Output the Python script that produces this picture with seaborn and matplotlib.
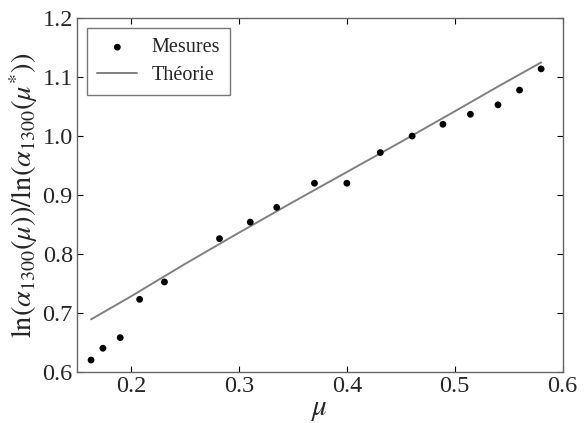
import numpy as np
import pandas as pd
import matplotlib
matplotlib.use("Agg")
import matplotlib.pyplot as plt
import seaborn as sns

mu_mes = [0.163, 0.174, 0.190, 0.208, 0.231, 0.282, 0.3105, 0.335, 0.370,
          0.400, 0.431, 0.4605, 0.489, 0.5145, 0.540, 0.560, 0.580]
ratio_mes = [0.620, 0.640, 0.658, 0.723, 0.7525, 0.826, 0.854, 0.879, 0.920,
             0.920, 0.972, 1.000, 1.020, 1.037, 1.053, 1.078, 1.114]

# theory curve
mu_th = [0.163, 0.200, 0.250, 0.300, 0.350, 0.400, 0.450, 0.500, 0.540, 0.580]
ratio_th = [0.689, 0.728, 0.783, 0.836, 0.888, 0.939, 0.990, 1.042, 1.084, 1.125]

sns.set_style("ticks")
plt.rcParams["font.family"] = ["Liberation Serif", "DejaVu Serif"]
plt.rcParams["mathtext.fontset"] = "stix"
plt.rcParams["xtick.direction"] = "in"
plt.rcParams["ytick.direction"] = "in"

df_mes = pd.DataFrame({"mu": mu_mes, "ratio": ratio_mes})
df_th = pd.DataFrame({"mu": mu_th, "ratio": ratio_th})

fig = plt.figure(figsize=(5.88, 4.23), dpi=100)
ax = fig.add_axes([0.131, 0.121, 0.826, 0.836])

sns.scatterplot(data=df_mes, x="mu", y="ratio", ax=ax, color="black",
                s=24, edgecolor="none", label="Mesures", zorder=3)
sns.lineplot(data=df_th, x="mu", y="ratio", ax=ax, color="#808080",
             linewidth=1.4, label="Théorie", zorder=2)

ax.set_xlim(0.15, 0.6)
ax.set_ylim(0.6, 1.2)
ax.set_xticks([0.2, 0.3, 0.4, 0.5, 0.6])
ax.set_yticks([0.6, 0.7, 0.8, 0.9, 1.0, 1.1, 1.2])
ax.set_xticklabels(["0.2", "0.3", "0.4", "0.5", "0.6"])
ax.set_yticklabels(["0.6", "0.7", "0.8", "0.9", "1.0", "1.1", "1.2"])
ax.tick_params(axis="both", which="both", labelsize=17.5, top=True, right=True,
               length=4, width=0.8, color="black", pad=3)
for sp in ax.spines.values():
    sp.set_color("#666666")
    sp.set_linewidth(1.0)

ax.set_xlabel(r"$\mu$", fontsize=21, labelpad=0)
ax.set_ylabel(r"$\ln(\alpha_{1300}(\mu))/\ln(\alpha_{1300}(\mu^{*}))$",
              fontsize=20.5, labelpad=2)

leg = ax.legend(loc="upper left", fontsize=14.5, frameon=True, fancybox=False,
                edgecolor="#555555", borderpad=0.5, handlelength=2.0,
                handletextpad=0.7, labelspacing=0.4, borderaxespad=0.5)
leg.get_frame().set_linewidth(1.0)

fig.savefig("out.png", dpi=100)
